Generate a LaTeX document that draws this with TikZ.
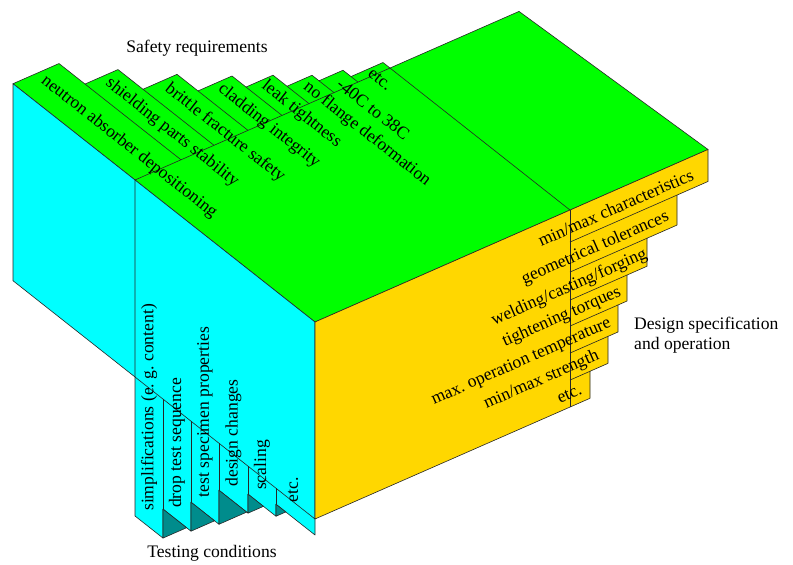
\documentclass[tikz,border=0pt]{standalone}
\usepackage{fontspec}
\setmainfont{Liberation Serif}
\frenchspacing
\definecolor{safetygreen}{RGB}{0,255,0}
\definecolor{testcyan}{RGB}{0,255,255}
\definecolor{designgold}{RGB}{255,215,0}
\definecolor{testshade}{RGB}{0,140,140}

\begin{document}
\begin{tikzpicture}[x=1pt,y=-1pt,
    face/.style={draw=black!85,line width=0.6pt,line join=round},
    edge/.style={draw=black!85,line width=0.6pt},
    lbl/.style={font=\fontsize{17.6}{20}\selectfont,inner sep=0pt}]
  \useasboundingbox (0,0) rectangle (793,565);

  % oblique axes: x = depth to the right, y = depth to the back, z = up
  \begin{scope}[shift={(315pt,-322pt)},x={(1pt,0.439pt)},y={(-1pt,0.789pt)},z={(0pt,1pt)}]
    % top (safety requirements)
    \filldraw[face,fill=safetygreen] (0,0,0) -- (0,302,0) -- (46,302,0) -- (46,276,0)
      -- (79,276,0) -- (79,251,0) -- (113,251,0) -- (113,230,0) -- (147,230,0)
      -- (147,216,0) -- (174,216,0) -- (174,202,0) -- (199,202,0) -- (199,195,0)
      -- (223,195,0) -- (223,187,0) -- (255,187,0) -- (255,180,0) -- (384,180,0)
      -- (393,0,0) -- cycle;
    \foreach \b/\q in {46/276,79/251,113/230,147/216,174/202,199/195,223/187}
      \draw[edge] (\b,\q,0) -- (\b,180,0);
    \draw[edge] (0,180,0) -- (255,180,0) -- (255,0,0);

    % left side (testing conditions)
    \filldraw[face,fill=testcyan] (0,302,0) -- (0,0,0) -- (0,0,-213) -- (0,39,-213)
      -- (0,39,-225) -- (0,67,-225) -- (0,67,-244) -- (0,96,-244) -- (0,96,-278)
      -- (0,124,-278) -- (0,124,-307) -- (0,152,-307) -- (0,152,-336) -- (0,180,-336)
      -- (0,180,-197) -- (0,302,-197) -- cycle;
    \draw[edge] (0,180,0) -- (0,180,-197) -- (0,0,-197);
    \foreach \c/\r in {152/-307,124/-278,96/-244,67/-225,39/-213}
      \draw[edge] (0,\c,-197) -- (0,\c,\r);
    \foreach \c/\ra/\rb in {152/-336/-307,124/-307/-278,96/-278/-244,67/-244/-225,39/-225/-213}{
      \pgfmathsetmacro\t{(\rb-\ra)/1.228}
      \filldraw[face,fill=testshade] (0,\c,\rb) -- (0,\c,\ra) -- (\t,\c,\ra) -- cycle;
    }

    % right side (design specification)
    \filldraw[face,fill=designgold] (0,0,0) -- (393,0,0) -- (393,0,-32) -- (362,0,-32)
      -- (362,0,-62) -- (332,0,-62) -- (332,0,-90) -- (312,0,-90) -- (312,0,-116)
      -- (303,0,-116) -- (303,0,-143) -- (293,0,-143) -- (293,0,-170) -- (275,0,-170)
      -- (275,0,-197) -- (0,0,-197) -- cycle;
    \draw[edge] (255,0,0) -- (255,0,-197);
    \foreach \r/\p in {-32/362,-62/332,-90/312,-116/303,-143/293,-170/275}
      \draw[edge] (255,0,\r) -- (\p,0,\r);

    % labels on the slabs
    \foreach \p/\q/\txt [count=\i] in {23/295/neutron absorber depositioning,
        62.5/270/shielding parts stability, 96/244/brittle fracture safety,
        130/225/cladding integrity, 160.5/212/leak tightness,
        186.5/196/no flange deformation, 211/187/-40C to 38C, 239/184/etc.}
      \node[lbl,rotate=-38.3,anchor=west] (g\i) at (\p,\q,0) {\txt};
    \foreach \q/\r/\txt [count=\i] in {166/-320/simplifications (e. g. content),
        138/-295/drop test sequence, 110/-262/test specimen properties,
        81.5/-229/design changes, 53/-210/scaling, 22/-198/etc.}
      \node[lbl,rotate=90,anchor=west] (t\i) at (0,\q,\r) {\txt};
    \node[lbl,rotate=23.7,anchor=base east] (d1) at (380,0,-24) {min/max characteristics};
    \node[lbl,rotate=23.7,anchor=base east] (d2) at (355,0,-54) {geometrical tolerances};
    \node[lbl,rotate=23.7,anchor=base east] (d3) at (333,0,-82) {welding/casting/forging};
    \node[lbl,rotate=23.7,anchor=base east] (d4) at (307,0,-108) {tightening torques};
    \node[lbl,rotate=23.7,anchor=base east] (d5) at (297,0,-135) {max. operation temperature};
    \node[lbl,rotate=23.7,anchor=base east] (d6) at (285,0,-162) {min/max strength};
    \node[lbl,rotate=23.7,anchor=base east] (d7) at (268,0,-189) {etc.};
  \end{scope}

  \node[lbl] (safety) at (197,48) {Safety requirements};
  \node[lbl,align=left,anchor=west] (design) at (634,335) {Design specification\\and operation};
  \node[lbl] (testing) at (212,553) {Testing conditions};
\end{tikzpicture}
\end{document}
